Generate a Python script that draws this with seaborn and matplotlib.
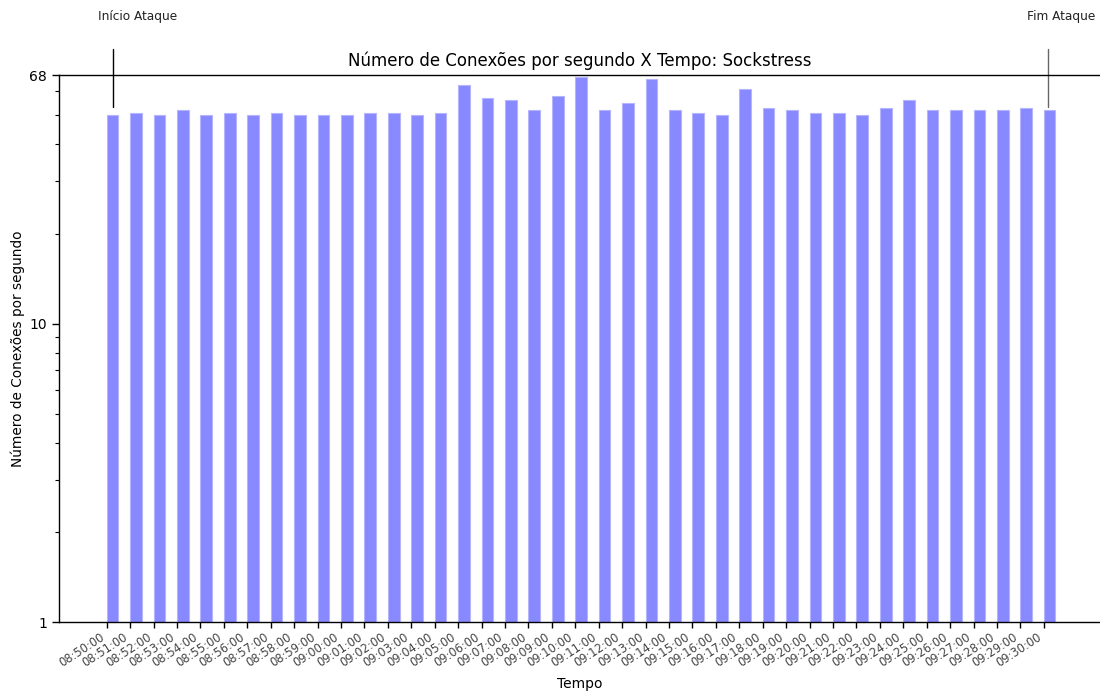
import matplotlib
matplotlib.use("Agg")
import matplotlib.pyplot as plt
from matplotlib.ticker import FixedLocator, NullFormatter, LogLocator
import seaborn as sns
import pandas as pd

times = [
    "08:50:00", "08:51:00", "08:52:00", "08:53:00", "08:54:00", "08:55:00",
    "08:56:00", "08:57:00", "08:58:00", "08:59:00", "09:00:00", "09:01:00",
    "09:02:00", "09:03:00", "09:04:00", "09:05:00", "09:06:00", "09:07:00",
    "09:08:00", "09:09:00", "09:10:00", "09:11:00", "09:12:00", "09:13:00",
    "09:14:00", "09:15:00", "09:16:00", "09:17:00", "09:18:00", "09:19:00",
    "09:20:00", "09:21:00", "09:22:00", "09:23:00", "09:24:00", "09:25:00",
    "09:26:00", "09:27:00", "09:28:00", "09:29:00", "09:30:00",
]
conexoes = [
    50, 51, 50, 52, 50, 51, 50, 51, 50, 50,
    50, 51, 51, 50, 51, 63, 57, 56, 52, 58,
    67, 52, 55, 66, 52, 51, 50, 61, 53, 52,
    51, 51, 50, 53, 56, 52, 52, 52, 52, 53,
    52,
]
y_ticks = [1, 10, 68]
inicio_label = "Início Ataque"
fim_label = "Fim Ataque"

sns.set_style("ticks")
plt.rcParams["font.family"] = ["DejaVu Sans"]
plt.rcParams["text.color"] = "black"
plt.rcParams["axes.labelcolor"] = "black"

df = pd.DataFrame({"Tempo": times, "Conexoes": conexoes})

fig = plt.figure(figsize=(11, 6.95), dpi=100)
ax = fig.add_axes([0.0536, 0.1046, 0.9464, 0.7871])

sns.barplot(data=df, x="Tempo", y="Conexoes", ax=ax, width=0.5,
            color="#8888ff", saturation=1, edgecolor="#b4b4ff", linewidth=0.8)

ax.set_yscale("log")
ax.set_ylim(1, max(conexoes) + 1)
ax.yaxis.set_major_locator(FixedLocator(y_ticks))
ax.set_yticklabels([str(v) for v in y_ticks])
ax.yaxis.set_minor_locator(LogLocator(base=10, subs=range(2, 10)))
ax.yaxis.set_minor_formatter(NullFormatter())

n = len(times)
ax.set_xticks([i - 0.25 for i in range(n)])
ax.set_xticklabels(times, rotation=33, ha="right", fontsize=8.3)
ax.set_xlim(-2.29, 42.15)

ax.tick_params(axis="x", direction="out", length=4, width=1, colors="black",
               labelcolor="#444444", pad=2)
ax.tick_params(axis="y", which="major", direction="out", length=5, width=1,
               labelsize=10, colors="black", labelcolor="black")
ax.tick_params(axis="y", which="minor", direction="out", length=3, width=0.8,
               colors="black")

for side in ("left", "bottom", "top"):
    ax.spines[side].set_visible(True)
    ax.spines[side].set_color("black")
    ax.spines[side].set_linewidth(1)
ax.spines["right"].set_visible(False)

ax.set_title("Número de Conexões por segundo X Tempo: Sockstress",
             fontsize=12, pad=7, color="black")
ax.set_xlabel("Tempo", fontsize=10, labelpad=5.5)
ax.set_ylabel("Número de Conexões por segundo", fontsize=9.8, labelpad=3)

# attack start / end markers above the plot area
trans = ax.get_xaxis_transform()
ax.plot([0, 0], [0.942, 1.048], transform=trans, color="black", lw=1,
        clip_on=False)
ax.text(1.05, 1.107, inicio_label, transform=trans, ha="center", va="center",
        fontsize=8.7, color="#222222")
ax.plot([39.95, 39.95], [0.942, 1.048], transform=trans, color="#666666",
        lw=1, clip_on=False)
ax.text(40.5, 1.107, fim_label, transform=trans, ha="center", va="center",
        fontsize=8.7, color="#222222")

fig.savefig("out.png", dpi=100)
